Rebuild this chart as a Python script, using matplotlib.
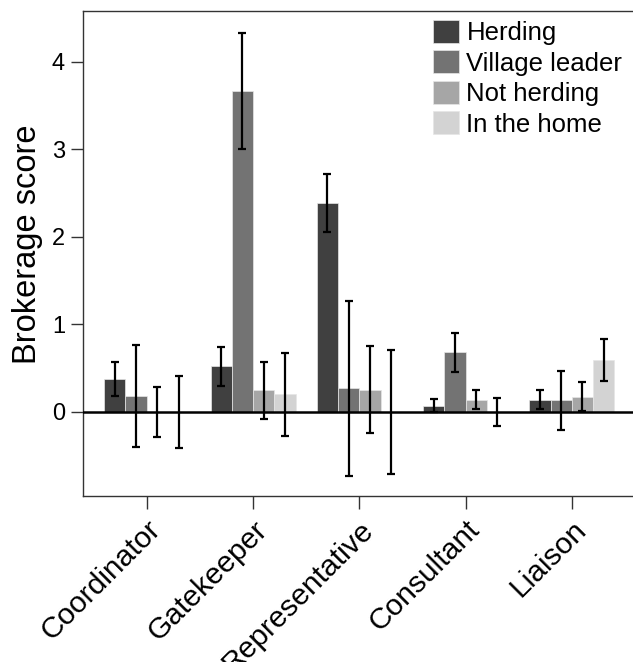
import matplotlib
matplotlib.use('Agg')
import matplotlib.pyplot as plt
import numpy as np

plt.rcParams['font.family'] = ['Liberation Sans', 'DejaVu Sans']

roles = ['Coordinator', 'Gatekeeper', 'Representative', 'Consultant', 'Liaison']
groups = ['Herding', 'Village leader', 'Not herding', 'In the home']

herding = [0.38, 0.52, 2.39, 0.07, 0.14]
herding_err = [0.195, 0.223, 0.33, 0.075, 0.11]
leader = [0.18, 3.665, 0.27, 0.68, 0.134]
leader_err = [0.58, 0.665, 1.0, 0.22, 0.335]
not_herding = [0.0, 0.245, 0.256, 0.14, 0.176]
not_herding_err = [0.29, 0.33, 0.5, 0.11, 0.17]
home = [0.0, 0.2, 0.0, 0.0, 0.594]
home_err = [0.41, 0.47, 0.705, 0.157, 0.236]

colors = ['#404040', '#737373', '#a6a6a6', '#d3d3d3']

fig = plt.figure(figsize=(6.33, 6.62), dpi=100)
ax = fig.add_axes([0.1311, 0.2508, 0.873, 0.7326])

x = np.arange(len(roles))
width = 0.2
series = [(herding, herding_err), (leader, leader_err),
          (not_herding, not_herding_err), (home, home_err)]
for i, (vals, errs) in enumerate(series):
    pos = x + (i - 1.5) * width
    ax.bar(pos, vals, width, color=colors[i], edgecolor='#e6e6e6',
           linewidth=0.5, label=groups[i], zorder=2)
    ax.errorbar(pos, vals, yerr=errs, fmt='none', ecolor='black',
                elinewidth=1.6, capsize=3, capthick=1.6, zorder=3)

ax.axhline(0, color='black', lw=1.8, zorder=4)

ax.set_xlim(-0.6, 4.6)
ax.set_ylim(-0.96, 4.58)
ax.set_yticks([0, 1, 2, 3, 4])
ax.set_xticks(x)
ax.set_xticklabels(roles, rotation=45, ha='right', rotation_mode='anchor')
ax.tick_params(axis='both', length=9, width=1, color='#333333')
ax.tick_params(axis='y', labelsize=17, pad=4)
ax.tick_params(axis='x', labelsize=21.5, pad=5)
ax.set_ylabel('Brokerage score', fontsize=23.5, labelpad=6, y=0.52)

for s in ax.spines.values():
    s.set_color('#333333')
    s.set_linewidth(1)

ax.legend(loc='upper left', bbox_to_anchor=(433 / 633, 1 - 20 / 662),
          bbox_transform=fig.transFigure, frameon=False, fontsize=18.5,
          handlelength=1.0, handleheight=1.0, handletextpad=0.3,
          labelspacing=0.2, borderpad=0, borderaxespad=0)

fig.savefig('out.png', dpi=100)
